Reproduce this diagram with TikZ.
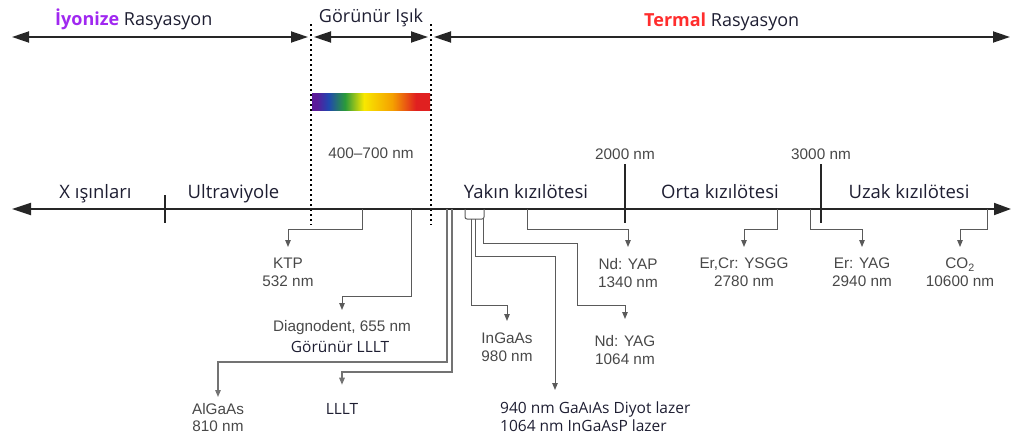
\documentclass[tikz,border=0pt]{standalone}
\usepackage{fontspec}
\setmainfont{Liberation Sans}
\newfontfamily\segfont{Open Sans}
\usetikzlibrary{arrows.meta}
\definecolor{navy}{HTML}{1E1E32}
\definecolor{lgray}{HTML}{484848}
\definecolor{cgray}{HTML}{5A5A5A}
\definecolor{ipurple}{HTML}{A028F0}
\definecolor{tred}{HTML}{FF2D2D}
\definecolor{rviolet}{HTML}{5A1A9A}
\definecolor{rblue}{HTML}{2048B0}
\definecolor{rgreen}{HTML}{2A9A3A}
\definecolor{ryellow}{HTML}{F8E800}
\definecolor{rorange}{HTML}{F5A000}
\definecolor{rred}{HTML}{E02020}
\pgfdeclarehorizontalshading{rainbowsh}{100bp}{color(0bp)=(rviolet); color(27bp)=(rviolet); color(32bp)=(rblue); color(39bp)=(rgreen); color(47bp)=(ryellow); color(59bp)=(rorange); color(69bp)=(rred); color(100bp)=(rred)}
\begin{document}
\begin{tikzpicture}[x=1pt,y=-1pt,
  big/.style={draw=black!85,line width=1.8pt,{Triangle[length=17pt,width=11pt]}-{Triangle[length=17pt,width=11pt]}},
  bigax/.style={draw=black!85,line width=1.8pt,{Triangle[length=19pt,width=12pt]}-{Triangle[length=17pt,width=12pt]}},
  dotv/.style={draw=black,line width=2pt,dash pattern=on 2.2pt off 2.8pt},
  conn/.style={draw=cgray,line width=1pt,-{Triangle[length=7pt,width=5.5pt]}},
  wire/.style={draw=cgray,line width=1pt},
  glab/.style={font=\fontsize{15.3}{18}\selectfont,text=lgray,align=center,inner sep=0pt},
  slab/.style={font=\segfont\fontsize{15.5}{18}\selectfont,text=navy,inner sep=0pt},
  rlab/.style={font=\segfont\fontsize{18.5}{20}\selectfont,text=navy,inner sep=0pt},
  tlab/.style={font=\segfont\fontsize{18}{20}\selectfont,text=navy,inner sep=0pt},
  tickl/.style={draw=black!85,line width=1.8pt}]
\useasboundingbox (0,0) rectangle (1013,439);

% ---- top row ----
\coordinate (tA1) at (12,37);  \coordinate (tA2) at (308,37);
\coordinate (tB1) at (314,37); \coordinate (tB2) at (428,37);
\coordinate (tC1) at (434,37); \coordinate (tC2) at (1010,37);
\draw[big] (tA1) -- (tA2);
\draw[big] (tB1) -- (tB2);
\draw[big] (tC1) -- (tC2);
\coordinate (d1t) at (311,24); \coordinate (d1b) at (311,225);
\coordinate (d2t) at (431,24); \coordinate (d2b) at (431,225);
\draw[dotv] (d1t) -- (d1b);
\draw[dotv] (d2t) -- (d2b);

\node[tlab,anchor=base west] (ion) at (55,25) {\textcolor{ipurple}{\bfseries İyonize} Rasyasyon};
\node[tlab,anchor=base] (vis) at (371,23) {Görünür Işık};
\node[tlab,anchor=base west] (therm) at (644,26) {\textcolor{tred}{\bfseries Termal} Rasyasyon};

% ---- rainbow ----
\fill[shading=rainbowsh] (312,93) rectangle (430,110);
\node[glab,anchor=base] (range) at (371,158) {400–700 nm};

% ---- main axis ----
\coordinate (axL) at (12,209); \coordinate (axR) at (1011,209);
\draw[bigax] (axL) -- (axR);
\draw[tickl] (165,195) -- (165,223);
\draw[tickl] (625,164) -- (625,223);
\draw[tickl] (821,164) -- (821,223);
\node[glab,anchor=base] (n2000) at (625,159) {2000 nm};
\node[glab,anchor=base] (n3000) at (821,159) {3000 nm};

\node[rlab,anchor=base] (xray) at (95.5,198) {X ışınları};
\node[rlab,anchor=base] (uv) at (233.5,198) {Ultraviyole};
\node[rlab,anchor=base] (nir) at (526,198) {Yakın kızılötesi};
\node[rlab,anchor=base] (mir) at (720,198) {Orta kızılötesi};
\node[rlab,anchor=base] (fir) at (909,198) {Uzak kızılötesi};

% ---- labels below ----
\node[glab,anchor=north] (ktp) at (288,258) {KTP\\532 nm};
\node[glab,anchor=north] (diag) at (342,320) {Diagnodent, 655 nm};
\node[slab,anchor=base] (glllt) at (340,352) {Görünür LLLT};
\node[glab,anchor=north,font=\fontsize{15.3}{17}\selectfont] (algaas) at (218,403) {AlGaAs\\810 nm};
\node[slab,anchor=base] (lllt) at (342,414) {LLLT};
\node[glab,anchor=north] (ingaas) at (507,333) {InGaAs\\980 nm};
\node[slab,anchor=north west,align=left] (gaalas) at (500,402) {940 nm GaAıAs Diyot lazer\\1064 nm InGaAsP lazer};
\node[glab,anchor=north] (ndyag) at (625,335) {Nd: YAG\\1064 nm};
\node[glab,anchor=north] (ndyap) at (628,258) {Nd: YAP\\1340 nm};
\node[glab,anchor=north] (ercr) at (744,258) {Er,Cr: YSGG\\2780 nm};
\node[glab,anchor=north] (eryag) at (862,258) {Er: YAG\\2940 nm};
\node[glab,anchor=north] (co) at (960,258) {CO\textsubscript{2}\\10600 nm};

% ---- connectors ----
\coordinate (aKTP) at (362,209);
\coordinate (aDiag) at (411,209);
\coordinate (aAl) at (447,209);
\coordinate (aLL) at (452,209);
\coordinate (aYap) at (527,209);
\coordinate (aEr) at (777,209);
\coordinate (aEy) at (810,209);
\coordinate (aCo) at (987,209);

\draw[conn] (aKTP) -- (362,229) -- (288,229) -- ([yshift=11pt]ktp.north);
\draw[conn] (aDiag) -- (411,296) -- (342,296) -- ([yshift=10pt]diag.north);
\draw[conn,draw=black!55,line width=1.3pt] (aAl) -- (447,362) -- (218,362) -- ([yshift=6pt]algaas.north);
\draw[conn,draw=black!55,line width=1.3pt] (aLL) -- (452,372) -- (342,372) -- ([yshift=18pt]lllt.north);
\draw[conn] (aYap) -- (527,229) -- (628,229) -- ([yshift=11pt]ndyap.north);
\draw[conn] (aEr) -- (777,229) -- (744,229) -- ([yshift=11pt]ercr.north);
\draw[conn] (aEy) -- (810,229) -- (862,229) -- ([yshift=11pt]eryag.north);
\draw[conn] (aCo) -- (987,229) -- (960,229) -- ([yshift=11pt]co.north);

% small box under the axis
\draw[wire,rounded corners=2pt] (465,209) -- (465,219) -- (484,219) -- (484,209);
\coordinate (bx1) at (471,219);
\coordinate (bx2) at (475,219);
\coordinate (bx3) at (483,219);
\draw[conn] (bx1) -- (471,305) -- (507,305) -- ([yshift=12pt]ingaas.north);
\draw[conn] (bx2) -- (475,256) -- (555,256) -- ([yshift=12pt]gaalas.north west -| 555,0);
\draw[conn] (bx3) -- (483,243) -- (577,243) -- (577,305) -- (625,305) -- ([yshift=16pt]ndyag.north);
\end{tikzpicture}
\end{document}
